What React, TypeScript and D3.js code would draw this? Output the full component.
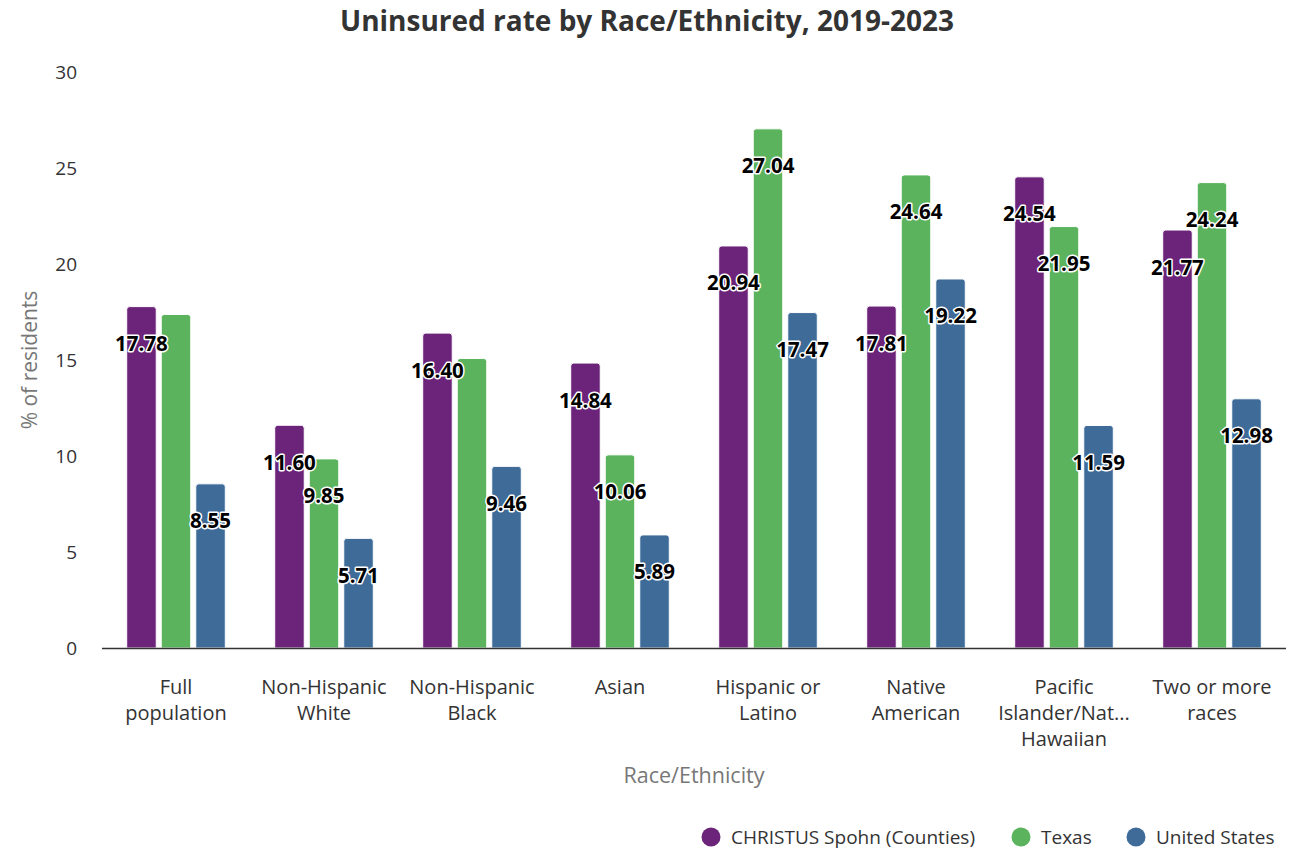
import React from "react";
import * as d3 from "d3";

const categories: string[][] = [
  ["Full", "population"],
  ["Non-Hispanic", "White"],
  ["Non-Hispanic", "Black"],
  ["Asian"],
  ["Hispanic or", "Latino"],
  ["Native", "American"],
  ["Pacific", "Islander/Nat...", "Hawaiian"],
  ["Two or more", "races"],
];
const seriesNames = ["CHRISTUS Spohn (Counties)", "Texas", "United States"];
const seriesColors = ["#6b2479", "#5cb35e", "#3e6b98"];
const christus = [17.78, 11.6, 16.4, 14.84, 20.94, 17.81, 24.54, 21.77];
const texas = [17.37, 9.85, 15.08, 10.06, 27.04, 24.64, 21.95, 24.24];
const unitedStates = [8.55, 5.71, 9.46, 5.89, 17.47, 19.22, 11.59, 12.98];
const yTicks = [0, 5, 10, 15, 20, 25, 30];

const W = 1295;
const H = 851;
const M = { left: 102, right: 1286, top: 72, bottom: 648 };
const FONT = "'Open Sans', 'Noto Sans', sans-serif";

export default function App() {
  const series = [christus, texas, unitedStates];
  const x0 = d3.scaleBand<number>().domain(d3.range(categories.length)).range([M.left, M.right]).paddingInner(0).paddingOuter(0);
  const bw = x0.bandwidth();
  const x1 = d3.scaleBand<number>().domain([0, 1, 2]).range([bw * 0.167, bw * 0.833]).paddingInner(0.145).paddingOuter(0);
  const y = d3.scaleLinear().domain([0, 30]).range([M.bottom, M.top]);

  const labelFont = 20.5;
  type Lab = { x: number; y: number; text: string; v: number; show: boolean };
  const labels: Lab[] = [];
  categories.forEach((_, ci) => {
    const labs: Lab[] = series.map((s, si) => {
      const v = s[ci];
      return {
        x: (x0(ci) as number) + (x1(si) as number) + x1.bandwidth() / 2,
        y: y(v) + 37,
        text: v.toFixed(2),
        v,
        show: true,
      };
    });
    const placed: Lab[] = [];
    [...labs].sort((a, b) => b.v - a.v).forEach((l) => {
      const w = l.text.length * 0.55 * labelFont + 4;
      const h = 28;
      const hit = placed.some((p) => {
        const pw = p.text.length * 0.55 * labelFont + 4;
        return Math.abs(p.x - l.x) < (w + pw) / 2 && Math.abs(p.y - l.y) < h;
      });
      if (hit) l.show = false;
      else placed.push(l);
    });
    labels.push(...labs);
  });

  const legendX = [711, 1021, 1136];

  return (
    <svg width={W} height={H} style={{ position: "absolute", left: 0, top: 0, fontFamily: FONT }}>
      <rect width={W} height={H} fill="#fff" />
      <text x={647} y={31} textAnchor="middle" fontSize={28} fontWeight={700} fill="#333">
        Uninsured rate by Race/Ethnicity, 2019-2023
      </text>
      {yTicks.map((t) => (
        <text key={t} x={77} y={y(t) + 6.5} textAnchor="end" fontSize={19} fill="#333">
          {t}
        </text>
      ))}
      <text transform={`translate(37,${(M.top + M.bottom) / 2}) rotate(-90)`} textAnchor="middle" fontSize={21} fill="#777">
        % of residents
      </text>
      {series.map((s, si) =>
        s.map((v, ci) => {
          const bx = (x0(ci) as number) + (x1(si) as number);
          const by = y(v);
          const w = x1.bandwidth();
          const r = 3;
          const d = `M${bx},${M.bottom} L${bx},${by + r} Q${bx},${by} ${bx + r},${by} L${bx + w - r},${by} Q${bx + w},${by} ${bx + w},${by + r} L${bx + w},${M.bottom} Z`;
          return <path key={`${si}-${ci}`} d={d} fill={seriesColors[si]} stroke="#fff" strokeWidth={1} />;
        })
      )}
      <line x1={M.left} x2={M.right} y1={M.bottom + 0.5} y2={M.bottom + 0.5} stroke="#333" strokeWidth={1.5} />
      {labels
        .filter((l) => l.show)
        .map((l, i) => (
          <text
            key={i}
            x={l.x}
            y={l.y + 7.5}
            textAnchor="middle"
            fontSize={labelFont}
            fontWeight={700}
            fill="#000"
            stroke="#fff"
            strokeWidth={3}
            paintOrder="stroke"
            strokeLinejoin="round"
          >
            {l.text}
          </text>
        ))}
      {categories.map((lines, ci) => (
        <text key={ci} x={(x0(ci) as number) + bw / 2} y={694} textAnchor="middle" fontSize={20} fill="#333">
          {lines.map((ln, li) => (
            <tspan key={li} x={(x0(ci) as number) + bw / 2} dy={li === 0 ? 0 : 26}>
              {ln}
            </tspan>
          ))}
        </text>
      ))}
      <text x={(M.left + M.right) / 2} y={783} textAnchor="middle" fontSize={21.5} fill="#777">
        Race/Ethnicity
      </text>
      {seriesNames.map((n, i) => (
        <g key={n}>
          <circle cx={legendX[i]} cy={837} r={9.5} fill={seriesColors[i]} />
          <text x={legendX[i] + 20} y={844} fontSize={19} fill="#333">
            {n}
          </text>
        </g>
      ))}
    </svg>
  );
}
